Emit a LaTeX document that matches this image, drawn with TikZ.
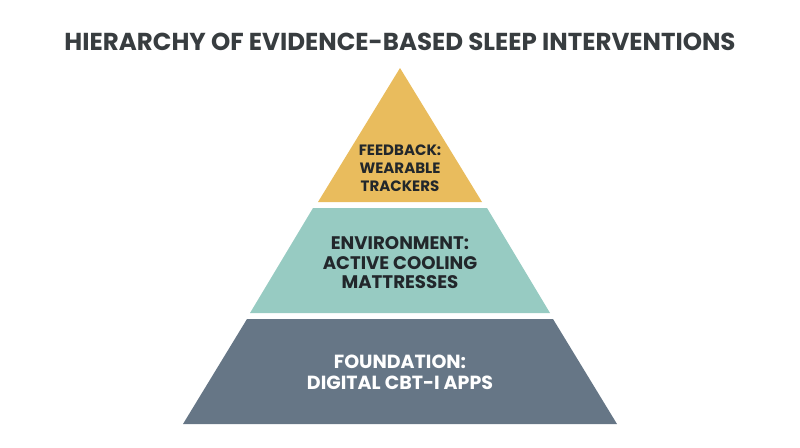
\documentclass[tikz,border=0pt]{standalone}
\usepackage{fontspec}
\setmainfont{Poppins}
\usetikzlibrary{positioning, calc}
\definecolor{CGold}{HTML}{E9BC5D}
\definecolor{CTeal}{HTML}{97CBC2}
\definecolor{CSlate}{HTML}{667686}
\definecolor{CInk}{HTML}{22272B}
\tikzset{
    tier/.style={
        draw=none
    },
    tiertext/.style={
        align=center,
        font=\bfseries,
        text=CInk,
        inner sep=0pt
    },
    titletext/.style={
        font=\fontsize{24.5}{28}\selectfont\bfseries,
        text=CInk!90,
        inner sep=0pt
    }
}

\begin{document}
\begin{tikzpicture}[x=1pt, y=-1pt]
    \useasboundingbox (0,0) rectangle (800,447);

    % Title
    \node[titletext] (title) at (400,42) {HIERARCHY OF EVIDENCE-BASED SLEEP INTERVENTIONS};

    % Tiers
    \fill[tier, CGold] (400,68) -- (482,202) -- (318,202) -- cycle;
    \fill[tier, CTeal] (313,208) -- (487,208) -- (550,313) -- (250,313) -- cycle;
    \fill[tier, CSlate] (247,319) -- (553,319) -- (617,424) -- (183,424) -- cycle;

    % Labels
    \node[tiertext, font=\fontsize{15}{18}\selectfont\bfseries] (feedback) at (400,168)
        {FEEDBACK:\\WEARABLE\\TRACKERS};
    \node[tiertext, font=\fontsize{18.2}{19.5}\selectfont\bfseries] (environment) at (400,263)
        {ENVIRONMENT:\\ACTIVE COOLING\\MATTRESSES};
    \node[tiertext, text=white, font=\fontsize{19}{21}\selectfont\bfseries] (foundation) at (400,372.5)
        {FOUNDATION:\\DIGITAL CBT-I APPS};

\end{tikzpicture}
\end{document}
